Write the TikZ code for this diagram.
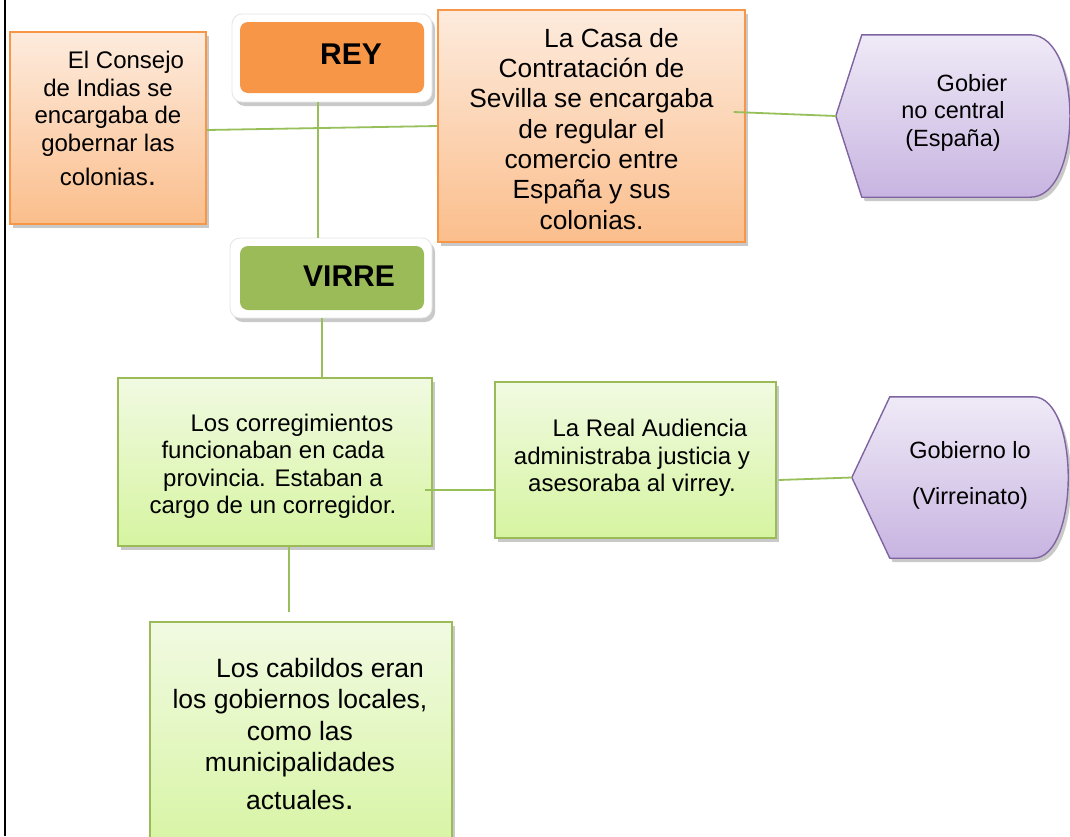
\documentclass[tikz,border=0pt]{standalone}
\usepackage{fontspec}
\setmainfont{Liberation Sans}
\usetikzlibrary{shadows,backgrounds,calc}
\definecolor{orD}{HTML}{F79646}
\definecolor{orT}{HTML}{FDEBDD}
\definecolor{orB}{HTML}{FBBE8C}
\definecolor{grD}{HTML}{9BBB59}
\definecolor{grT}{HTML}{F1FAE2}
\definecolor{grB}{HTML}{D6F4A0}
\definecolor{puD}{HTML}{8064A2}
\definecolor{puT}{HTML}{EFEAF7}
\definecolor{puB}{HTML}{C8B4E1}
\definecolor{lineG}{HTML}{97BF5A}
\tikzset{
  myshadow/.style={drop shadow={shadow xshift=3pt,shadow yshift=-4pt,opacity=0.35,fill=black!60}},
  obox/.style={draw=orD,line width=1.4pt,top color=orT,bottom color=orB,myshadow,inner sep=0pt},
  gbox/.style={draw=grD,line width=1.4pt,top color=grT,bottom color=grB,myshadow,inner sep=0pt},
  pshape/.style={draw=puD,line width=1.4pt,top color=puT,bottom color=puB,myshadow},
  outerbox/.style={draw=black!10,line width=0.8pt,fill=white,rounded corners=10pt,myshadow,inner sep=0pt},
  txt/.style={inner sep=0pt,align=center,anchor=north},
  conn/.style={draw=lineG,line width=1.8pt},
}
\begin{document}
\begin{tikzpicture}[x=1pt,y=-1pt]
\clip (0,0) rectangle (1070,836);
% boxes
\node[obox,minimum width=196pt,minimum height=192pt] (consejo) at (108,128) {};
\node[obox,minimum width=307pt,minimum height=232pt] (casa) at (591.5,126) {};
\node[outerbox,minimum width=200pt,minimum height=88pt] (rey) at (332,58) {};
\node[fill=orD,rounded corners=8pt,minimum width=184pt,minimum height=71pt,inner sep=0pt] (reyin) at (332,57.5) {};
\node[font=\fontsize{30}{30}\selectfont\bfseries,inner sep=0pt] (reyt) at (351,54) {REY};
\node[outerbox,minimum width=202pt,minimum height=80pt] (virre) at (331,278) {};
\node[fill=grD,rounded corners=8pt,minimum width=184pt,minimum height=64pt,inner sep=0pt] (virrein) at (332,278) {};
\node[font=\fontsize{30}{30}\selectfont\bfseries,inner sep=0pt] (virret) at (349,276.5) {VIRRE};
\node[gbox,minimum width=314pt,minimum height=168pt] (corr) at (275,462) {};
\node[gbox,minimum width=281pt,minimum height=156pt] (ra) at (635.5,460) {};
\node[gbox,minimum width=302pt,minimum height=238pt] (cab) at (301,741) {};
\node[inner sep=0pt,minimum width=234pt,minimum height=162pt] (gc) at (953,116) {};
\node[inner sep=0pt,minimum width=216pt,minimum height=161pt] (gl) at (960,477.5) {};
% display shapes
\begin{scope}[on background layer]
\fill[white] (0,0) rectangle (1070,836);
\path[pshape] (gc.west) -- ([xshift=26pt]gc.north west) -- ([xshift=-40pt]gc.north east)
  .. controls ([xshift=13pt]gc.north east) and ([xshift=13pt]gc.south east) .. ([xshift=-40pt]gc.south east)
  -- ([xshift=26pt]gc.south west) -- cycle;
\path[pshape] (gl.west) -- ([xshift=38pt]gl.north west) -- ([xshift=-35pt]gl.north east)
  .. controls ([xshift=11.7pt]gl.north east) and ([xshift=11.7pt]gl.south east) .. ([xshift=-35pt]gl.south east)
  -- ([xshift=38pt]gl.south west) -- cycle;
\end{scope}
% texts
\node[txt,font=\fontsize{24}{27.5}\selectfont] (consejot) at (108,51)
  {\hspace*{36pt}El Consejo\\de Indias se\\encargaba de\\gobernar las\\[6.5pt]colonias{\fontsize{30}{30}\selectfont.}};
\node[txt,font=\fontsize{26.3}{30.3}\selectfont] (casat) at (591.5,28)
  {\hspace*{40pt}La Casa de\\Contratación de\\Sevilla se encargaba\\de regular el\\comercio entre\\España y sus\\colonias.};
\node[txt,font=\fontsize{23.5}{27.5}\selectfont] (gct) at (953,74)
  {\hspace*{38pt}Gobier\\no central\\(España)};
\node[txt,font=\fontsize{23.5}{46}\selectfont] (glt) at (970,441)
  {Gobierno lo\\(Virreinato)};
\node[txt,font=\fontsize{24}{27.3}\selectfont] (corrt) at (273,414)
  {\hspace*{38pt}Los corregimientos\\funcionaban en cada\\provincia. Estaban a\\cargo de un corregidor.};
\node[txt,font=\fontsize{24}{27.5}\selectfont] (rat) at (632,419)
  {\hspace*{36pt}La Real Audiencia\\administraba justicia y\\asesoraba al virrey.};
\node[txt,font=\fontsize{26.5}{31.5}\selectfont] (cabt) at (300,658)
  {\hspace*{40pt}Los cabildos eran\\los gobiernos locales,\\como las\\municipalidades\\[6.5pt]actuales{\fontsize{32}{32}\selectfont.}};
% connectors
\draw[conn] ([xshift=-14pt]rey.south) -- ([xshift=-14pt]rey.south |- virre.north);
\draw[conn] ([yshift=-2pt]consejo.east) -- (casa.west);
\draw[conn] ([xshift=-12pt,yshift=14pt]casa.east) -- (gc.west);
\draw[conn] ([xshift=-9pt]virre.south) -- ([xshift=-9pt]virre.south |- corr.north);
\draw[conn] ([xshift=-8pt,yshift=-28pt]corr.east) coordinate (c1) -- (c1 -| ra.west);
\draw[conn] ([xshift=2pt,yshift=-20pt]ra.east) -- (gl.west);
\draw[conn] ([xshift=14pt]corr.south) coordinate (c2) -- ([yshift=9pt]c2 |- cab.north);
% page frame line
\draw[line width=2.5pt] (5,0) -- (5,836);
\end{tikzpicture}
\end{document}
